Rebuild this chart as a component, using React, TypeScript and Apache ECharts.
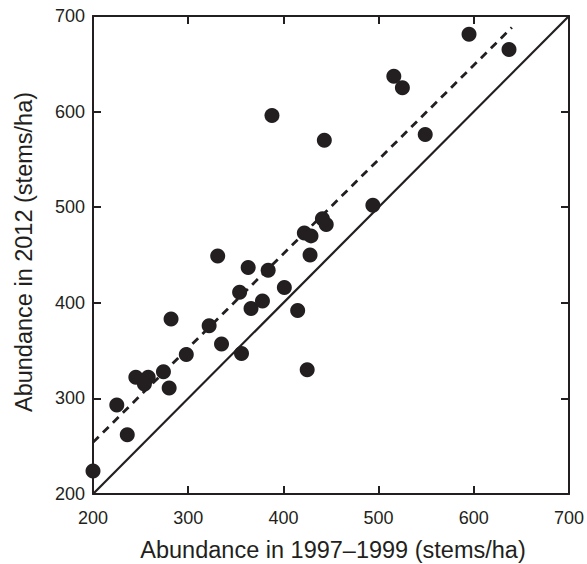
import React, { useEffect, useRef } from "react";
import * as echarts from "echarts";

const xValues = [200, 225, 236, 245, 258, 254, 274, 280, 282, 298, 322, 335, 331, 356, 354, 363, 366, 378, 384, 401, 415, 425, 428, 388, 443, 422, 429, 441, 445, 494, 549, 516, 525, 595, 637];
const yValues = [224, 293, 262, 322, 322, 315, 328, 311, 383, 346, 376, 357, 449, 347, 411, 437, 394, 402, 434, 416, 392, 330, 450, 596, 570, 473, 470, 488, 482, 502, 576, 637, 625, 681, 665];

const identityLine = [[200, 200], [700, 700]];
const fitLine = [[200, 254], [640, 688]];

const xTicks = [200, 300, 400, 500, 600, 700];
const yTicks = [200, 300, 400, 500, 600, 700];

const xTitle = "Abundance in 1997\u20131999 (stems/ha)";
const yTitle = "Abundance in 2012 (stems/ha)";

export default function App() {
  const ref = useRef<HTMLDivElement>(null);
  useEffect(() => {
    if (!ref.current) return;
    const chart = echarts.init(ref.current, undefined, { renderer: "svg" });
    const font = "'Liberation Sans', Arial, Helvetica, sans-serif";
    const ink = "#231f20";
    const axisCommon = (pos: string, showLabel: boolean, ticks: number[]) => ({
      type: "value",
      position: pos,
      min: ticks[0],
      max: ticks[ticks.length - 1],
      interval: 100,
      axisLine: { show: true, onZero: false, lineStyle: { color: ink, width: 2 } },
      axisTick: { show: true, inside: true, length: 8, lineStyle: { color: ink, width: 2 } },
      axisLabel: { show: showLabel, color: ink, fontSize: 18, fontFamily: font, margin: pos === "bottom" ? 15 : 8 },
      splitLine: { show: false },
    });
    const points = xValues.map((x, i) => [x, yValues[i]]);
    chart.setOption({
      animation: false,
      backgroundColor: "#ffffff",
      grid: { left: 93, right: 15, top: 16, bottom: 70, containLabel: false },
      xAxis: [axisCommon("bottom", true, xTicks), axisCommon("top", false, xTicks)],
      yAxis: [axisCommon("left", true, yTicks), axisCommon("right", false, yTicks)],
      graphic: [
        {
          type: "text",
          x: 333,
          y: 550,
          style: { text: xTitle, fill: ink, fontSize: 23.5, fontFamily: font, textAlign: "center", textVerticalAlign: "middle" },
        },
        {
          type: "text",
          x: 24,
          y: 252,
          rotation: Math.PI / 2,
          style: { text: yTitle, fill: ink, fontSize: 23.5, fontFamily: font, textAlign: "center", textVerticalAlign: "middle" },
        },
      ],
      series: [
        {
          type: "line",
          data: identityLine,
          showSymbol: false,
          symbol: "none",
          lineStyle: { color: ink, width: 2.2, type: "solid" },
          z: 2,
        },
        {
          type: "line",
          data: fitLine,
          showSymbol: false,
          symbol: "none",
          lineStyle: { color: ink, width: 2.8, type: [8, 6] },
          z: 2,
        },
        {
          type: "scatter",
          data: points,
          symbol: "circle",
          symbolSize: 15,
          itemStyle: { color: ink, opacity: 1 },
          z: 3,
        },
      ],
    });
    return () => chart.dispose();
  }, []);
  return <div ref={ref} style={{ position: "fixed", left: 0, top: 0, width: 587, height: 564 }} />;
}
